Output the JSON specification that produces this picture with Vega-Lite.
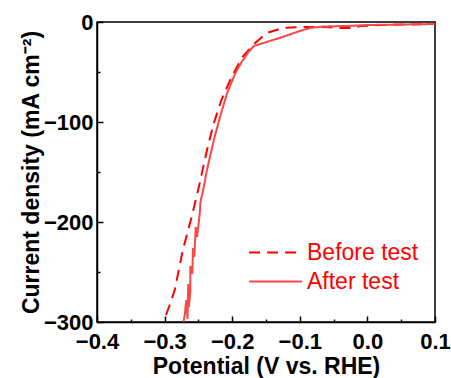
{
  "$schema": "https://vega.github.io/schema/vega-lite/v6.json",
  "width": 338,
  "height": 300,
  "autosize": "none",
  "padding": {"left": 97, "top": 22, "right": 16, "bottom": 56},
  "background": "white",
  "config": {
    "view": {"stroke": "black", "strokeWidth": 1.5},
    "font": "Liberation Sans"
  },
  "data": {
    "values": [
      {"series": "Before test", "v": -0.298, "j": -293},
      {"series": "Before test", "v": -0.293, "j": -284},
      {"series": "Before test", "v": -0.285, "j": -268},
      {"series": "Before test", "v": -0.273, "j": -228},
      {"series": "Before test", "v": -0.260, "j": -195},
      {"series": "Before test", "v": -0.248, "j": -161},
      {"series": "Before test", "v": -0.238, "j": -130},
      {"series": "Before test", "v": -0.228, "j": -103},
      {"series": "Before test", "v": -0.216, "j": -78},
      {"series": "Before test", "v": -0.201, "j": -55},
      {"series": "Before test", "v": -0.185, "j": -35},
      {"series": "Before test", "v": -0.166, "j": -21},
      {"series": "Before test", "v": -0.149, "j": -11},
      {"series": "Before test", "v": -0.125, "j": -6},
      {"series": "Before test", "v": -0.100, "j": -5},
      {"series": "Before test", "v": -0.060, "j": -5},
      {"series": "Before test", "v": -0.040, "j": -6},
      {"series": "Before test", "v": -0.025, "j": -6},
      {"series": "Before test", "v": -0.010, "j": -4},
      {"series": "Before test", "v": 0.023, "j": -3},
      {"series": "Before test", "v": 0.060, "j": -2.5},
      {"series": "Before test", "v": 0.100, "j": -2},
      {"series": "After test", "v": -0.272, "j": -300},
      {"series": "After test", "v": -0.266, "j": -297},
      {"series": "After test", "v": -0.270, "j": -292},
      {"series": "After test", "v": -0.264, "j": -285},
      {"series": "After test", "v": -0.268, "j": -278},
      {"series": "After test", "v": -0.262, "j": -270},
      {"series": "After test", "v": -0.265, "j": -262},
      {"series": "After test", "v": -0.259, "j": -252},
      {"series": "After test", "v": -0.262, "j": -244},
      {"series": "After test", "v": -0.256, "j": -235},
      {"series": "After test", "v": -0.258, "j": -226},
      {"series": "After test", "v": -0.252, "j": -215},
      {"series": "After test", "v": -0.254, "j": -205},
      {"series": "After test", "v": -0.248, "j": -192},
      {"series": "After test", "v": -0.247, "j": -180},
      {"series": "After test", "v": -0.242, "j": -165},
      {"series": "After test", "v": -0.238, "j": -150},
      {"series": "After test", "v": -0.233, "j": -135},
      {"series": "After test", "v": -0.226, "j": -115},
      {"series": "After test", "v": -0.218, "j": -95},
      {"series": "After test", "v": -0.208, "j": -72},
      {"series": "After test", "v": -0.196, "j": -52},
      {"series": "After test", "v": -0.186, "j": -40},
      {"series": "After test", "v": -0.176, "j": -30},
      {"series": "After test", "v": -0.168, "j": -24},
      {"series": "After test", "v": -0.130, "j": -16},
      {"series": "After test", "v": -0.100, "j": -9},
      {"series": "After test", "v": -0.085, "j": -6},
      {"series": "After test", "v": -0.066, "j": -4.5},
      {"series": "After test", "v": -0.030, "j": -4},
      {"series": "After test", "v": 0.000, "j": -3},
      {"series": "After test", "v": 0.050, "j": -2.5},
      {"series": "After test", "v": 0.100, "j": -2}
    ]
  },
  "mark": {"type": "line", "strokeWidth": 2, "clip": true},
  "encoding": {
    "x": {
      "field": "v", "type": "quantitative",
      "scale": {"domain": [-0.4, 0.1], "nice": false, "zero": false},
      "axis": {
        "title": "Potential (V vs. RHE)",
        "titleFont": "Liberation Sans", "titleFontSize": 23, "titleFontWeight": "bold", "titleColor": "black",
        "titlePadding": 0,
        "values": [-0.4, -0.35, -0.3, -0.25, -0.2, -0.15, -0.1, -0.05, 0, 0.05, 0.1],
        "labelExpr": "abs(datum.value*10 - round(datum.value*10)) > 0.01 ? '' : format(datum.value, '.1f')",
        "labelFont": "Liberation Sans", "labelFontSize": 22, "labelFontWeight": "bold", "labelColor": "black",
        "labelPadding": 15,
        "labelFlush": false,
        "labelOverlap": false,
        "tickSize": {"condition": {"test": "abs(datum.value*10 - round(datum.value*10)) > 0.01", "value": -3}, "value": -6},
        "tickColor": "black", "tickWidth": 1.5,
        "domainColor": "black", "domainWidth": 1.5,
        "grid": false
      }
    },
    "y": {
      "field": "j", "type": "quantitative",
      "scale": {"domain": [-300, 0], "nice": false},
      "axis": {
        "title": "Current density (mA cm⁻²)",
        "titleFont": "Liberation Sans", "titleFontSize": 23, "titleFontWeight": "bold", "titleColor": "black",
        "titlePadding": 0,
        "values": [-300, -250, -200, -150, -100, -50, 0],
        "labelExpr": "datum.value % 100 != 0 ? '' : format(datum.value, 'd')",
        "labelFont": "Liberation Sans", "labelFontSize": 22, "labelFontWeight": "bold", "labelColor": "black",
        "labelPadding": 10,
        "labelOverlap": false,
        "tickSize": {"condition": {"test": "datum.value % 100 != 0", "value": -3}, "value": -6},
        "tickColor": "black", "tickWidth": 1.5,
        "domainColor": "black", "domainWidth": 1.5,
        "grid": false
      }
    },
    "color": {
      "field": "series", "type": "nominal",
      "scale": {"domain": ["Before test", "After test"], "range": ["#ff0000", "#f84848"]},
      "legend": {
        "title": null, "orient": "none", "legendX": 164, "legendY": 216,
        "symbolType": "M-2,0L2,0", "symbolStrokeWidth": 2, "symbolSize": 700,
        "labelFont": "Liberation Sans", "labelFontSize": 23, "labelColor": "#ff0000",
        "labelOffset": 17, "rowPadding": 2
      }
    },
    "strokeDash": {
      "field": "series", "type": "nominal",
      "scale": {"domain": ["Before test", "After test"], "range": [[11, 7], [1, 0]]},
      "legend": {
        "title": null, "orient": "none", "legendX": 164, "legendY": 216,
        "symbolType": "M-2,0L2,0", "symbolStrokeWidth": 2, "symbolSize": 700,
        "labelFont": "Liberation Sans", "labelFontSize": 23, "labelColor": "#ff0000",
        "labelOffset": 17, "rowPadding": 2
      }
    }
  }
}
